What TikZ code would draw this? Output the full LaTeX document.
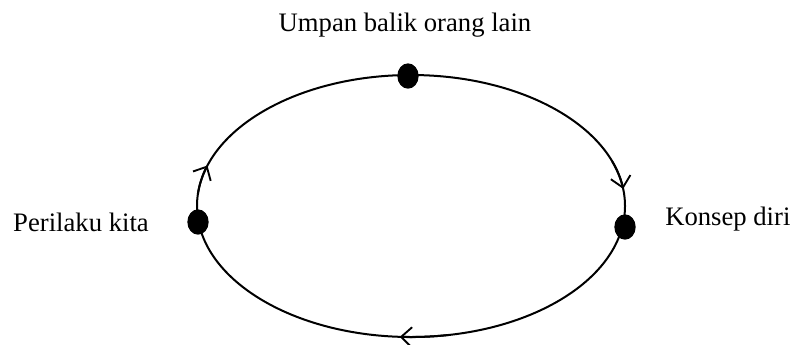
\documentclass[tikz,border=0pt]{standalone}
\usepackage{fontspec}
\setmainfont{Liberation Serif}
\usetikzlibrary{arrows.meta,shapes.geometric}
\begin{document}
\begin{tikzpicture}[x=0.75pt,y=-0.75pt,
  lbl/.style={font=\fontsize{20}{24}\selectfont, inner sep=0pt},
  dotnode/.style={shape=ellipse, fill=black, draw=none, inner sep=0pt, minimum width=16pt, minimum height=19pt},
  cycle/.style={line width=1.5pt},
  barb/.style={-{Straight Barb[length=8pt,width=15pt,line width=1.4pt]}}
]
\useasboundingbox (0,0) rectangle (795,344);
% main loop
\coordinate (c) at (411,206);
\draw[cycle] (c) ellipse [x radius=214, y radius=131];
% arrow heads placed on the loop (clockwise)
\draw[cycle,barb] (c) ++(-20:214 and 131) arc[start angle=-20, end angle=-7.5, x radius=214, y radius=131];
\draw[cycle,barb] (c) ++(80:214 and 131) arc[start angle=80, end angle=93, x radius=214, y radius=131];
\draw[cycle,barb] (c) ++(185:214 and 131) arc[start angle=185, end angle=198, x radius=214, y radius=131];
% dots
\node[dotnode] (top) at (408,76) {};
\node[dotnode] (left) at (198,222) {};
\node[dotnode] (right) at (625,227) {};
% labels
\node[lbl] (tl) at (405,25) {Umpan balik orang lain};
\node[lbl, anchor=east] (ll) at (149,222) {Perilaku kita};
\node[lbl, anchor=west] (rl) at (665,219) {Konsep diri};
\end{tikzpicture}
\end{document}
